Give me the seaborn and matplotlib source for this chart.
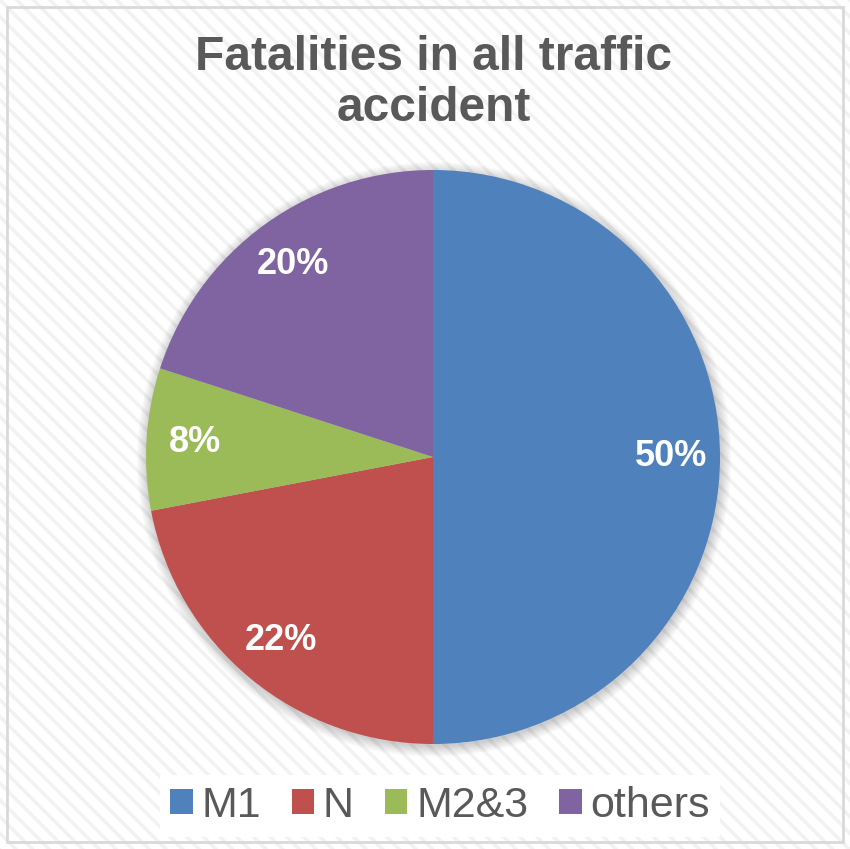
import seaborn as sns
import matplotlib.pyplot as plt
from matplotlib.patches import Rectangle, Circle, Patch

categories = ['M1', 'N', 'M2&3', 'others']
shares = [50, 22, 8, 20]
title = 'Fatalities in all traffic\naccident'

colors = ['#4F81BD', '#C0504D', '#9BBB59', '#8064A2']
text_grey = '#595959'

sns.set_theme(style='white')
plt.rcParams['font.family'] = ['Liberation Sans', 'DejaVu Sans']
plt.rcParams['hatch.linewidth'] = 2.5

W, H = 850, 849
fig = plt.figure(figsize=(W / 100, H / 100), dpi=100)
fig.patch.set_facecolor('white')

# striped chart-area background and light border
fig.patches.append(Rectangle((0, 0), 1, 1, transform=fig.transFigure,
                             facecolor='white', edgecolor='#f2f2f2',
                             hatch='\\\\', linewidth=0, zorder=-10))
fig.patches.append(Rectangle((7 / W, 7 / H), 1 - 14 / W, 1 - 14 / H,
                             transform=fig.transFigure, facecolor='none',
                             edgecolor='#d9d9d9', linewidth=2, zorder=-9))

# pie axes: center (433, 457), radius 287 px
cx, cy, r = 433, 457, 287
ax = fig.add_axes([(cx - r) / W, (H - cy - r) / H, 2 * r / W, 2 * r / H])
ax.patch.set_alpha(0)

# soft shadow
for i in range(10):
    ax.add_patch(Circle((0.004, -0.008), 1 + 0.004 * i, color='black',
                        alpha=0.018, linewidth=0, clip_on=False, zorder=0))

wedges, _, autotexts = ax.pie(shares, colors=colors, startangle=90,
                              counterclock=False, autopct='%1.0f%%',
                              pctdistance=0.83,
                              wedgeprops=dict(linewidth=0),
                              textprops=dict(color='white', fontsize=26,
                                             fontweight='bold'))
for w in wedges:
    w.set_zorder(2)
for t in autotexts:
    t.set_zorder(3)
ax.set_xlim(-1, 1)
ax.set_ylim(-1, 1)
ax.set_aspect('equal')
ax.axis('off')

fig.text(433.5 / W, 1 - 83 / H, title, ha='center', va='center',
         fontsize=34.5, fontweight='bold', color=text_grey, linespacing=1.18)

handles = [Patch(facecolor=c, edgecolor='none') for c in colors]
leg = fig.legend(handles, categories, loc='center',
                 bbox_to_anchor=(440 / W, 1 - 806 / H), ncol=4,
                 fontsize=31, frameon=True, facecolor='white', edgecolor='none',
                 framealpha=1, fancybox=False, handlelength=0.52,
                 handleheight=0.52, handletextpad=0.2, columnspacing=0.72,
                 borderpad=0.25, borderaxespad=0)
for t in leg.get_texts():
    t.set_color(text_grey)

fig.savefig('out.png', dpi=100)
